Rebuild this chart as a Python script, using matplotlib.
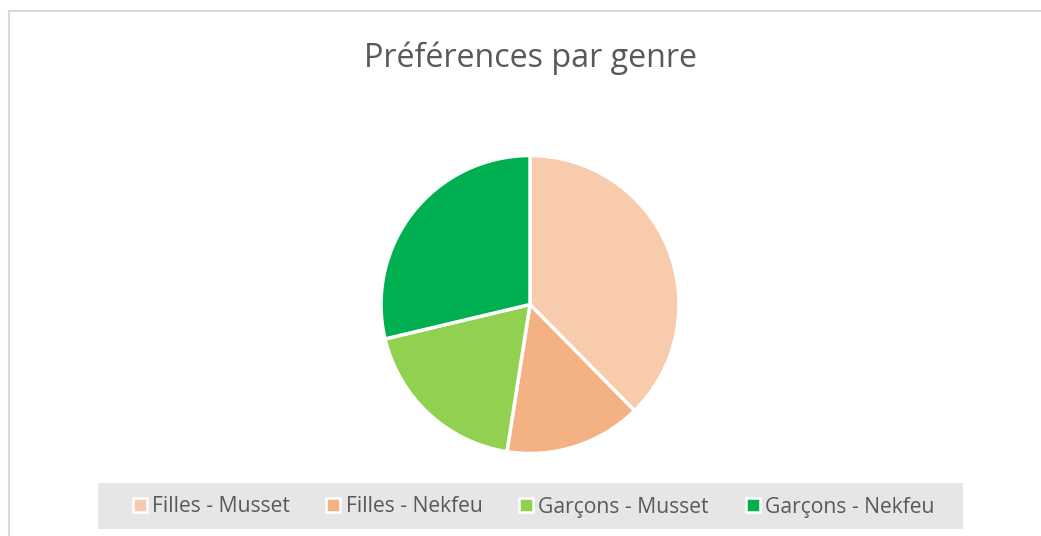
import matplotlib.pyplot as plt
from matplotlib.patches import Rectangle
from matplotlib.lines import Line2D

# data
labels = ["Filles - Musset", "Filles - Nekfeu", "Garçons - Musset", "Garçons - Nekfeu"]
values = [38, 15, 19, 29]
colors = ["#F8CBAD", "#F4B183", "#92D050", "#00B050"]

W, H = 1041, 536
fig = plt.figure(figsize=(W / 100, H / 100), dpi=100, facecolor="white")
plt.rcParams['font.family'] = ['Open Sans', 'DejaVu Sans']
txt_color = "#595959"

# chart frame (cut off on the right and bottom)
fig.patches.append(Rectangle((9 / W, -0.1), 1.2, (H - 10.5) / H + 0.1, transform=fig.transFigure,
                             fill=False, edgecolor="#D9D9D9", linewidth=1.5))

# title
fig.text(530 / W, 1 - 58 / H, "Préférences par genre", ha="center", va="center",
         fontsize=23.2, color=txt_color)

# pie
cx, cy, r = 530, 304.5, 149
ax = fig.add_axes([(cx - r) / W, (H - cy - r) / H, 2 * r / W, 2 * r / H])
ax.pie(values, colors=colors, startangle=90, counterclock=False,
       wedgeprops=dict(edgecolor="white", linewidth=2.5))
ax.set_xlim(-1, 1)
ax.set_ylim(-1, 1)
ax.set_aspect("equal")
ax.axis("off")

# legend band
fig.patches.append(Rectangle((98 / W, (H - 529) / H), (963 - 98) / W, 46 / H,
                             transform=fig.transFigure, facecolor="#E7E6E6", edgecolor="none"))
handles = [Line2D([], [], marker="s", linestyle="none", markersize=10.5, markerfacecolor=c,
                  markeredgecolor="white", markeredgewidth=1.8) for c in colors]
fig.legend(handles, labels, loc="center", bbox_to_anchor=(533 / W, 1 - 507 / H), ncol=4,
           frameon=False, fontsize=15.2, labelcolor=txt_color, handlelength=0.75,
           handletextpad=0.2, columnspacing=1.7, borderpad=0)

fig.savefig("out.png", dpi=100, facecolor="white")
